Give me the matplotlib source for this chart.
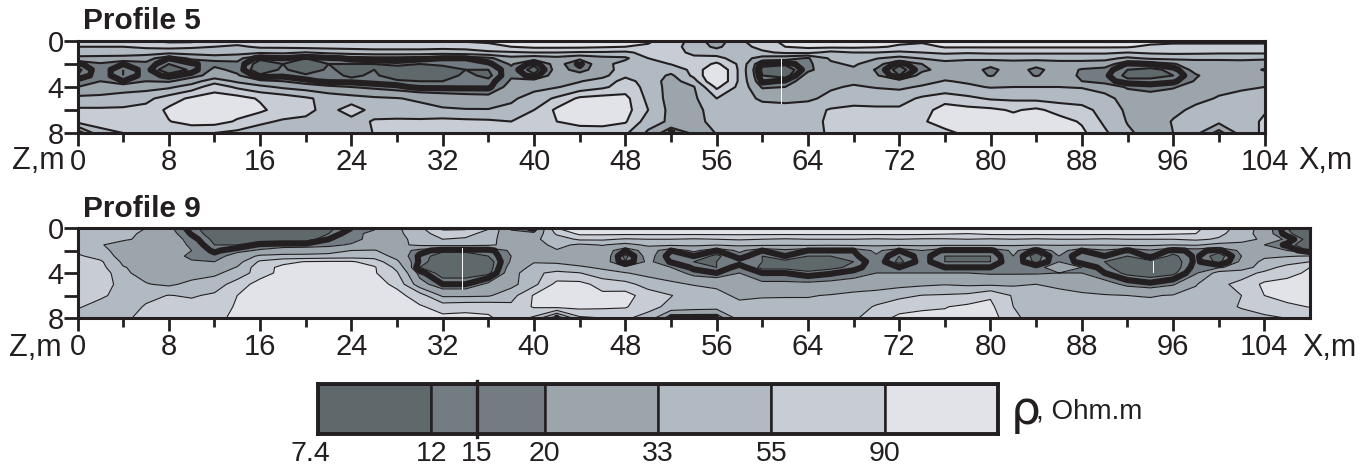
import numpy as np
import matplotlib
matplotlib.use("Agg")
import matplotlib.pyplot as plt
from matplotlib.transforms import ScaledTranslation

plt.rcParams['font.family'] = ['Liberation Sans', 'DejaVu Sans']

W, H = 1368, 467
ink = '#231f20'

# class limits and fill colours, Ohm.m
fill_levels = [1, 12, 20, 33, 55, 90, 1000]
fill_colors = ['#5f686b', '#737c83', '#9ca4ac', '#b1b9c2', '#c8ccd5', '#e1e3e9']
thin_levels = [12, 20, 33, 55, 90]
thick_level = [15]

# depth rows
z_rows = [0, 0.5, 1, 1.5, 2, 2.5, 3, 3.5, 4, 5, 6, 7, 8]

# Profile 5, x = 0, 2, ... 104
x5 = np.arange(0, 105, 2)
rho5 = [
    [70,70,70,85,100,100,75,70,80,85, 85,85,90,95,95,95,95,95,100,110, 110,110,110,105,100,95,75,45,24,50, 75,100,110,110,110,110,100,100,110,110, 110,110,110,110,110,110,110,110,110,110, 110,110,110],
    [55,55,55,60,65,60,55,50,60,60, 65,65,65,65,65,65,65,65,75,90, 100,100,100,95,90,85,70,42,30,45, 65,90,100,100,100,95,85,75,95,95, 95,95,95,95,95,95,95,80,70,70, 70,70,70],
    [45,45,45,42,38,40,48,40,36,38, 32,38,42,45,45,45,42,45,50,52, 55,55,52,52,50,65,65,50,42,42, 50,60,62,48,55,55,50,55,60,58, 60,60,60,60,60,60,55,60,62,62, 60,60,60],
    [28,27,26,24,15,22,22,23,13,15, 12,14,16,17,17,16,15,15,18,28, 24,28,22,28,30,55,60,60,65,42, 27,24,19,36,45,34,28,34,40,36, 38,38,38,38,38,38,30,36,38,36, 36,36,36],
    [14,19,15,18,12,14,18,18,10,12, 10,12,12,12,13,12,13,13,14,21, 13,24,14,28,40,45,56,65,100,50, 13,13,18,30,36,24,13,20,27,27, 24,27,25,28,28,26,14,15,19,27, 27,28,25],
    [11,18,12,17,9,13,22,18,9,13, 9,13,10,12,10,10,10,12,12,18, 10,24,17,26,42,45,42,62,160,50, 11,9,18,27,30,19,10,18,24,27, 17,27,17,27,19,17,12,11,13,24, 26,27,19],
    [12,18,12,17,14,17,24,21,13,14, 13,14,11,13,9,9,10,13,11,19, 13,26,24,28,50,45,30,62,160,50, 12,10,24,28,28,21,12,24,28,28, 19,28,19,28,18,16,11,11,12,19, 27,28,26],
    [17,20,15,20,19,26,45,30,22,20, 16,14,14,13,13,12,12,13,13,21, 24,28,32,42,65,45,26,45,160,50, 14,16,26,30,30,28,24,28,34,31, 30,30,30,30,20,17,13,13,14,21, 27,28,29],
    [20,24,26,27,30,42,75,50,38,30, 26,22,20,18,16,14,14,14,14,24, 28,32,40,50,70,48,26,32,100,48, 19,20,26,31,35,32,30,35,38,36, 32,33,33,33,32,26,19,17,19,26, 30,31,33],
    [38,38,42,48,70,100,110,110,85,75, 60,46,40,36,34,30,27,25,24,30, 42,60,100,110,105,48,27,30,55,42, 30,28,30,38,45,45,45,60,75,62, 52,50,48,45,44,40,26,25,28,30, 34,38,40],
    [60,60,60,65,100,110,110,110,100,70, 65,44,75,44,42,40,35,34,34,38, 55,100,110,110,110,55,28,28,42,42, 42,42,44,58,62,60,60,75,110,105, 100,85,100,75,65,46,30,26,30,36, 38,42,52],
    [65,62,60,65,88,110,110,85,60,52, 48,44,44,58,60,60,65,62,60,55, 65,90,105,110,95,42,30,26,42,42, 42,42,44,62,65,65,65,85,110,110, 110,110,110,110,85,50,32,26,34,40, 38,42,60],
    [14,50,55,58,60,60,55,48,44,44, 44,44,44,56,60,60,62,62,62,65, 66,68,70,68,60,30,14,22,34,42, 42,42,44,60,65,65,65,70,80,100, 110,110,110,110,100,60,36,27,33,38, 16,42,60],
]

# Profile 9, x = 0, 2, ... 108
x9 = np.arange(0, 109, 2)
rho9 = [
    [40,40,38,33,22,13,10,10,10,11, 10,11,15,19,30,50,100,100,60,18, 14,90,110,110,110,110,110,110,110,110, 110,110,110,110,110,110,110,110,110,110, 110,110,110,110,110,110,110,110,110,100, 70,45,26,12,9],
    [40,40,38,30,24,14.5,10,10,10,10, 10,12,18,22,30,42,75,70,42,24, 22,60,100,100,100,100,100,100,100,100, 100,100,100,100,100,100,100,100,95,90, 100,100,100,100,100,100,100,100,95,90, 62,42,26,13,9],
    [40,38,35,30,26,17,11,10,10,10, 10,15,17,24,28,40,55,50,38,26, 30,42,60,60,52,55,55,52,55,58, 55,52,55,55,55,52,55,52,52,55, 52,55,52,55,55,52,55,55,55,60, 52,40,30,18,10],
    [38,34,28,27,24,19,12,12,16,17, 17,18,21,23,30,36,38,38,36,28, 27,38,30,34,28,36,36,36,34,36, 36,35,36,35,36,36,36,36,36,36, 36,35,34,34,34,34,36,36,33,35, 28,28,20,14,9],
    [48,38,27,26,24,20,14,18,21,24, 25,26,33,34,26,17,13,13,13,22, 28,32,26,26,15,25,15,22,15,22, 15,18,15,15,15,22,15,20,14,14, 14,22,14,24,15,19,14.5,19,14,16, 14,22,26,20,11],
    [60,45,27,26,25,18,17,24,36,38, 38,40,42,44,28,14,10,10,12,20, 28,28,26,28,11,24,13,15,11,17, 12,15,12,12,14,19,12,17,12,12, 12,20,10,20,12,15,12,16,11,16, 10,20,30,32,34],
    [70,60,30,27,26,21,20,27,60,80, 92,95,95,72,36,14,9,9,10,21, 32,30,26,26,12,22,14.5,12,12,13, 12,11,10,11,12,18,11,17,12,12, 12,19,11,20,13,12,10,11,10,16, 11,22,38,45,55],
    [72,65,34,28,27,24,24,34,75,100, 110,110,110,95,48,12,9,9,10,24, 38,42,36,30,22,25,20,14,12,17, 11,11,10,11,13,19,15,20,15,15, 15,20,18,24,20,13,10,10,10,17, 19,24,45,65,90],
    [75,80,36,28,27,26,30,40,72,105, 110,110,110,95,58,17,10,10,11,26, 50,62,56,40,34,28,26,17,15,20, 15,15,13,14.5,17,20,20,20,20,20, 19,19,19,20,20,15,11,10,11,19, 40,46,60,75,100],
    [72,80,42,34,30,38,42,70,110,110, 110,110,110,110,80,24,15,15,22,28, 48,105,105,75,65,45,36,32,30,22, 22,22,22,23,24,25,28,30,32,30, 30,30,33,30,26,24,18,16,19,32, 50,62,100,110,110],
    [65,60,46,48,56,52,60,90,110,110, 110,110,110,110,105,70,30,30,31,45, 95,110,110,100,110,70,56,44,38,30, 32,32,32,34,38,42,48,56,58,62, 85,52,40,38,36,34,33,32,34,38, 44,55,90,110,110],
    [58,46,42,58,62,66,72,95,110,110, 110,110,110,110,110,95,75,80,80,62, 95,105,105,100,95,62,50,44,42,38, 37,38,38,38,44,58,75,85,88,100, 100,55,44,40,38,38,38,38,38,40, 44,58,75,80,92],
    [44,44,52,60,65,70,80,100,110,110, 110,110,110,110,110,110,100,100,95,75, 50,14,50,55,58,48,14,14,14,42, 40,40,40,40,50,75,100,100,100,110, 110,65,40,38,38,38,38,38,38,38, 40,42,48,56,60],
]

major_x = np.arange(0, 105, 8)
minor_x = np.arange(4, 104, 8)

# legend
legend_cells = ['#5f686b', '#737c83', '#9ca4ac', '#b1b9c2', '#c8ccd5', '#e1e3e9']
legend_pos = [0, 1, 1.4, 2, 3, 4, 5]
legend_labels = ['7.4', '12', '15', '20', '33', '55', '90']

# thin white seams in the scan: x, z from, z to
seams5 = [(61.6, 1.6, 5.4)]
seams9 = [(33.7, 1.8, 5.4), (94.2, 2.9, 3.9)]


def px_axes(fig, left, top, right, bottom):
    return fig.add_axes([left / W, 1 - bottom / H, (right - left) / W, (bottom - top) / H])


def profile(fig, box, x, rho, xmax, title, title_y, seams, lw, zlab_x, xlab_x, lab_y):
    ax = px_axes(fig, *box)
    xx, zz = np.meshgrid(x, z_rows)
    vals = np.log(np.array(rho, dtype=float))
    ax.contourf(xx, zz, vals, levels=np.log(fill_levels), colors=fill_colors)
    ax.contour(xx, zz, vals, levels=np.log(thin_levels), colors=ink, linewidths=lw)
    ax.contour(xx, zz, vals, levels=np.log(thick_level), colors=ink, linewidths=4.4)
    for sx, s0, s1 in seams:
        ax.plot([sx, sx], [s0, s1], color='white', lw=0.7)
    ax.set_xlim(0, xmax)
    ax.set_ylim(8, 0)
    ax.set_xticks(major_x)
    ax.set_xticks(minor_x, minor=True)
    ax.set_yticks([0, 4, 8])
    ax.set_yticks([2, 6], minor=True)
    ax.tick_params(axis='x', which='major', length=9, width=2, color=ink, labelsize=21,
                   labelcolor=ink, pad=2)
    ax.tick_params(axis='x', which='minor', length=6.5, width=2, color=ink)
    ax.tick_params(axis='y', which='major', length=10, width=2, color=ink, labelsize=21,
                   labelcolor=ink, pad=0)
    ax.tick_params(axis='y', which='minor', length=10, width=2, color=ink)
    for s in ax.spines.values():
        s.set_linewidth(2.2)
        s.set_color(ink)
    fig.text(83 / W, 1 - title_y / H, title, fontsize=21.5, fontweight='bold', color=ink,
             va='center', ha='left')
    fig.text(zlab_x / W, 1 - lab_y / H, 'Z,m', fontsize=22, color=ink, va='center', ha='left')
    fig.text(xlab_x / W, 1 - lab_y / H, 'X,m', fontsize=22, color=ink, va='center', ha='left')
    return ax


fig = plt.figure(figsize=(W / 100, H / 100), dpi=100)

profile(fig, (77.5, 41, 1264.5, 133), x5, rho5, 104, 'Profile 5', 21, seams5, 1.5, 12, 1298, 161)
profile(fig, (77.5, 228, 1310, 318), x9, rho9, 108, 'Profile 9', 209, seams9, 0.8, 9, 1302, 348)

lg = px_axes(fig, 318, 384, 998, 434)
for i, c in enumerate(legend_cells):
    lg.barh(0, 1, left=i, height=1, color=c, edgecolor=ink, linewidth=1.8)
lg.set_xlim(0, 6)
lg.set_ylim(-0.5, 0.5)
lg.set_yticks([])
lg.set_xticks(legend_pos)
lg.set_xticklabels(legend_labels)
lg.tick_params(axis='x', length=0, labelsize=20.5, labelcolor=ink, pad=5)
first = lg.get_xticklabels()[0]
first.set_transform(first.get_transform() + ScaledTranslation(-8 / 100, 0, fig.dpi_scale_trans))
lg.plot([1.4, 1.4], [-0.56, 0.56], color=ink, lw=2.4, clip_on=False)
for s in lg.spines.values():
    s.set_linewidth(2.8)
    s.set_color(ink)
fig.text(1011 / W, 1 - 411 / H, 'ρ', fontsize=34, color=ink, va='center', ha='left',
         family=['DejaVu Sans'])
fig.text(1036 / W, 1 - 411 / H, ', Ohm.m', fontsize=20, color=ink, va='center', ha='left')

fig.savefig('out.png', dpi=100)
